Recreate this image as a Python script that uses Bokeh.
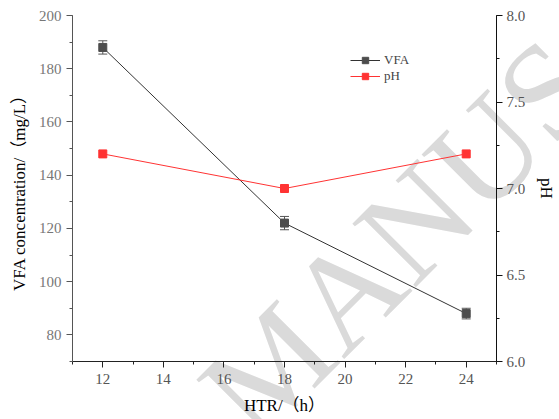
from bokeh.plotting import figure
from bokeh.models import (Range1d, LinearAxis, SingleIntervalTicker, Whisker, TeeHead,
                          ColumnDataSource, Legend, LegendItem, CustomJSTickFormatter)
from bokeh.core.properties import value
from bokeh.embed import file_html
from bokeh.resources import INLINE

# data
htr = [12, 18, 24]
vfa = [188, 122, 88]
vfa_err = [2.5, 2.5, 2.0]
ph = [7.2, 7.0, 7.2]

W, H = 559, 419
SERIF = "'Liberation Serif', 'Times New Roman', 'Noto Sans CJK SC', serif"

# ---- watermark layer (page-pixel coordinates, drawn beneath the chart) ----
wmf = figure(width=W, height=H, x_range=Range1d(0, W), y_range=Range1d(H, 0),
             output_backend="svg", toolbar_location=None,
             x_axis_location=None, y_axis_location=None,
             min_border_left=0, min_border_right=0, min_border_top=0, min_border_bottom=0)
wmf.outline_line_color = None
wmf.xgrid.visible = False
wmf.ygrid.visible = False
wmf.background_fill_color = "white"
wmf.border_fill_color = "white"
wmf.text(x=[224], y=[413], text=["MANUSC"], angle=45, angle_units="deg",
         text_font=value("Liberation Serif"), text_font_size="137px",
         text_color="#dadada", text_baseline="alphabetic", text_align="left")

# ---- main chart (overlaid on the watermark layer) ----
p = figure(width=W, height=H, x_range=Range1d(11, 25), y_range=Range1d(70, 200),
           output_backend="svg", toolbar_location=None,
           min_border_left=72, min_border_right=56, min_border_top=15, min_border_bottom=58,
           margin=(-H, 0, 0, 0))
p.extra_y_ranges = {"ph": Range1d(6, 8)}
p.outline_line_color = None
p.xgrid.visible = False
p.ygrid.visible = False
p.background_fill_alpha = 0
p.border_fill_alpha = 0

def style_axis(ax, line_color, label_color):
    ax.axis_line_color = line_color
    ax.major_tick_line_color = line_color
    ax.minor_tick_line_color = line_color
    ax.major_tick_out = 6
    ax.major_tick_in = 0
    ax.minor_tick_out = 3
    ax.minor_tick_in = 0
    ax.major_label_text_font = SERIF
    ax.major_label_text_font_size = "15px"
    ax.major_label_text_color = label_color
    ax.axis_label_text_font = SERIF
    ax.axis_label_text_font_size = "17px"
    ax.axis_label_text_font_style = "normal"
    ax.axis_label_text_color = "black"

p.xaxis.ticker = SingleIntervalTicker(interval=2, num_minor_ticks=2)
p.xaxis.axis_label = "HTR/（h）"
style_axis(p.xaxis[0], "#222222", "#555555")
p.xaxis.major_label_standoff = 6
p.xaxis.axis_label_standoff = 9

p.yaxis.ticker = SingleIntervalTicker(interval=20, num_minor_ticks=2)
p.yaxis.axis_label = "VFA concentration/（mg/L）"
style_axis(p.yaxis[0], "#555555", "#777777")
p.yaxis.major_label_standoff = 5
p.yaxis.axis_label_standoff = 7

rax = LinearAxis(y_range_name="ph", axis_label="pH",
                 ticker=SingleIntervalTicker(interval=0.5, num_minor_ticks=2))
style_axis(rax, "#111111", "#555555")
rax.formatter = CustomJSTickFormatter(code="return tick.toFixed(1);")
rax.major_label_standoff = 4
rax.axis_label_standoff = 9
p.add_layout(rax, "right")

# VFA series
src_v = ColumnDataSource(dict(x=htr, y=vfa,
                              lo=[v - e for v, e in zip(vfa, vfa_err)],
                              hi=[v + e for v, e in zip(vfa, vfa_err)]))
wh = Whisker(source=src_v, base="x", lower="lo", upper="hi", line_color="#555555", line_width=1,
             upper_head=TeeHead(size=9, line_color="#555555"),
             lower_head=TeeHead(size=9, line_color="#555555"))
p.add_layout(wh)
vl = p.line("x", "y", source=src_v, line_color="#333333", line_width=1)
vs = p.scatter("x", "y", source=src_v, marker="square", size=8,
               fill_color="#4d4d4d", line_color="#4d4d4d")

# pH series
src_p = ColumnDataSource(dict(x=htr, y=ph))
pl = p.line("x", "y", source=src_p, line_color="#ff3333", line_width=1, y_range_name="ph")
ps = p.scatter("x", "y", source=src_p, marker="square", size=8,
               fill_color="#ff3333", line_color="#ff3333", y_range_name="ph")

legend = Legend(items=[LegendItem(label="VFA", renderers=[vl, vs]),
                       LegendItem(label="pH", renderers=[pl, ps])],
                location=(278, 277), border_line_color=None, background_fill_alpha=0,
                padding=2, spacing=0, glyph_width=30, glyph_height=16, label_height=16,
                label_text_font=SERIF, label_text_font_size="13px", label_standoff=4,
                margin=0)
p.add_layout(legend, "center")

open("out.html", "w").write(file_html([wmf, p], INLINE))
